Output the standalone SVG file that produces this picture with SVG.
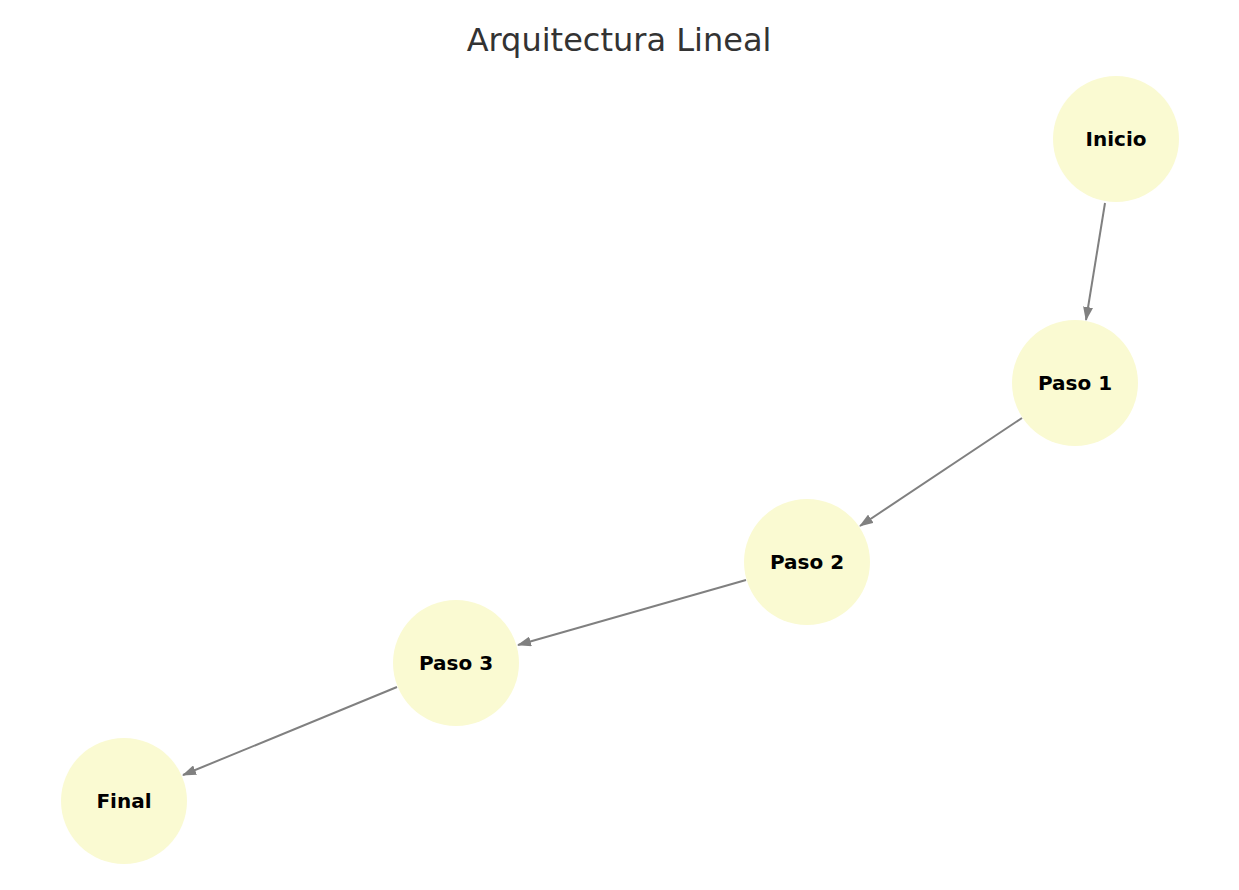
<svg xmlns="http://www.w3.org/2000/svg" width="1239" height="890" viewBox="0 0 1239 890">
<style>
.n{fill:#fafad2}
.t{font-family:"DejaVu Sans",sans-serif;font-weight:bold;font-size:20px;text-anchor:middle;dominant-baseline:central;fill:#000}
.e{stroke:#808080;stroke-width:2;fill:none;marker-end:url(#a)}
</style>
<defs><marker id="a" markerWidth="14" markerHeight="10" refX="13" refY="5" orient="auto" markerUnits="userSpaceOnUse"><path d="M0,0 L14,5 L0,10 Z" fill="#808080"/></marker></defs>
<rect width="1239" height="890" fill="#fff"/>
<text x="619" y="40" font-family="DejaVu Sans,sans-serif" font-size="32" fill="#333" text-anchor="middle" dominant-baseline="central">Arquitectura Lineal</text>
<g id="edges">
<line class="e" x1="1105" y1="203" x2="1086" y2="320"/>
<line class="e" x1="1022" y1="418" x2="860" y2="526"/>
<line class="e" x1="746" y1="580" x2="518" y2="645"/>
<line class="e" x1="397" y1="687" x2="183" y2="775"/>
</g>
<g id="inicio"><circle class="n" cx="1116" cy="139" r="63"/><text class="t" x="1116" y="139">Inicio</text></g>
<g id="paso1"><circle class="n" cx="1075" cy="383" r="63"/><text class="t" x="1075" y="383">Paso 1</text></g>
<g id="paso2"><circle class="n" cx="807" cy="562" r="63"/><text class="t" x="807" y="562">Paso 2</text></g>
<g id="paso3"><circle class="n" cx="456" cy="663" r="63"/><text class="t" x="456" y="663">Paso 3</text></g>
<g id="final"><circle class="n" cx="124" cy="801" r="63"/><text class="t" x="124" y="801">Final</text></g>
</svg>
